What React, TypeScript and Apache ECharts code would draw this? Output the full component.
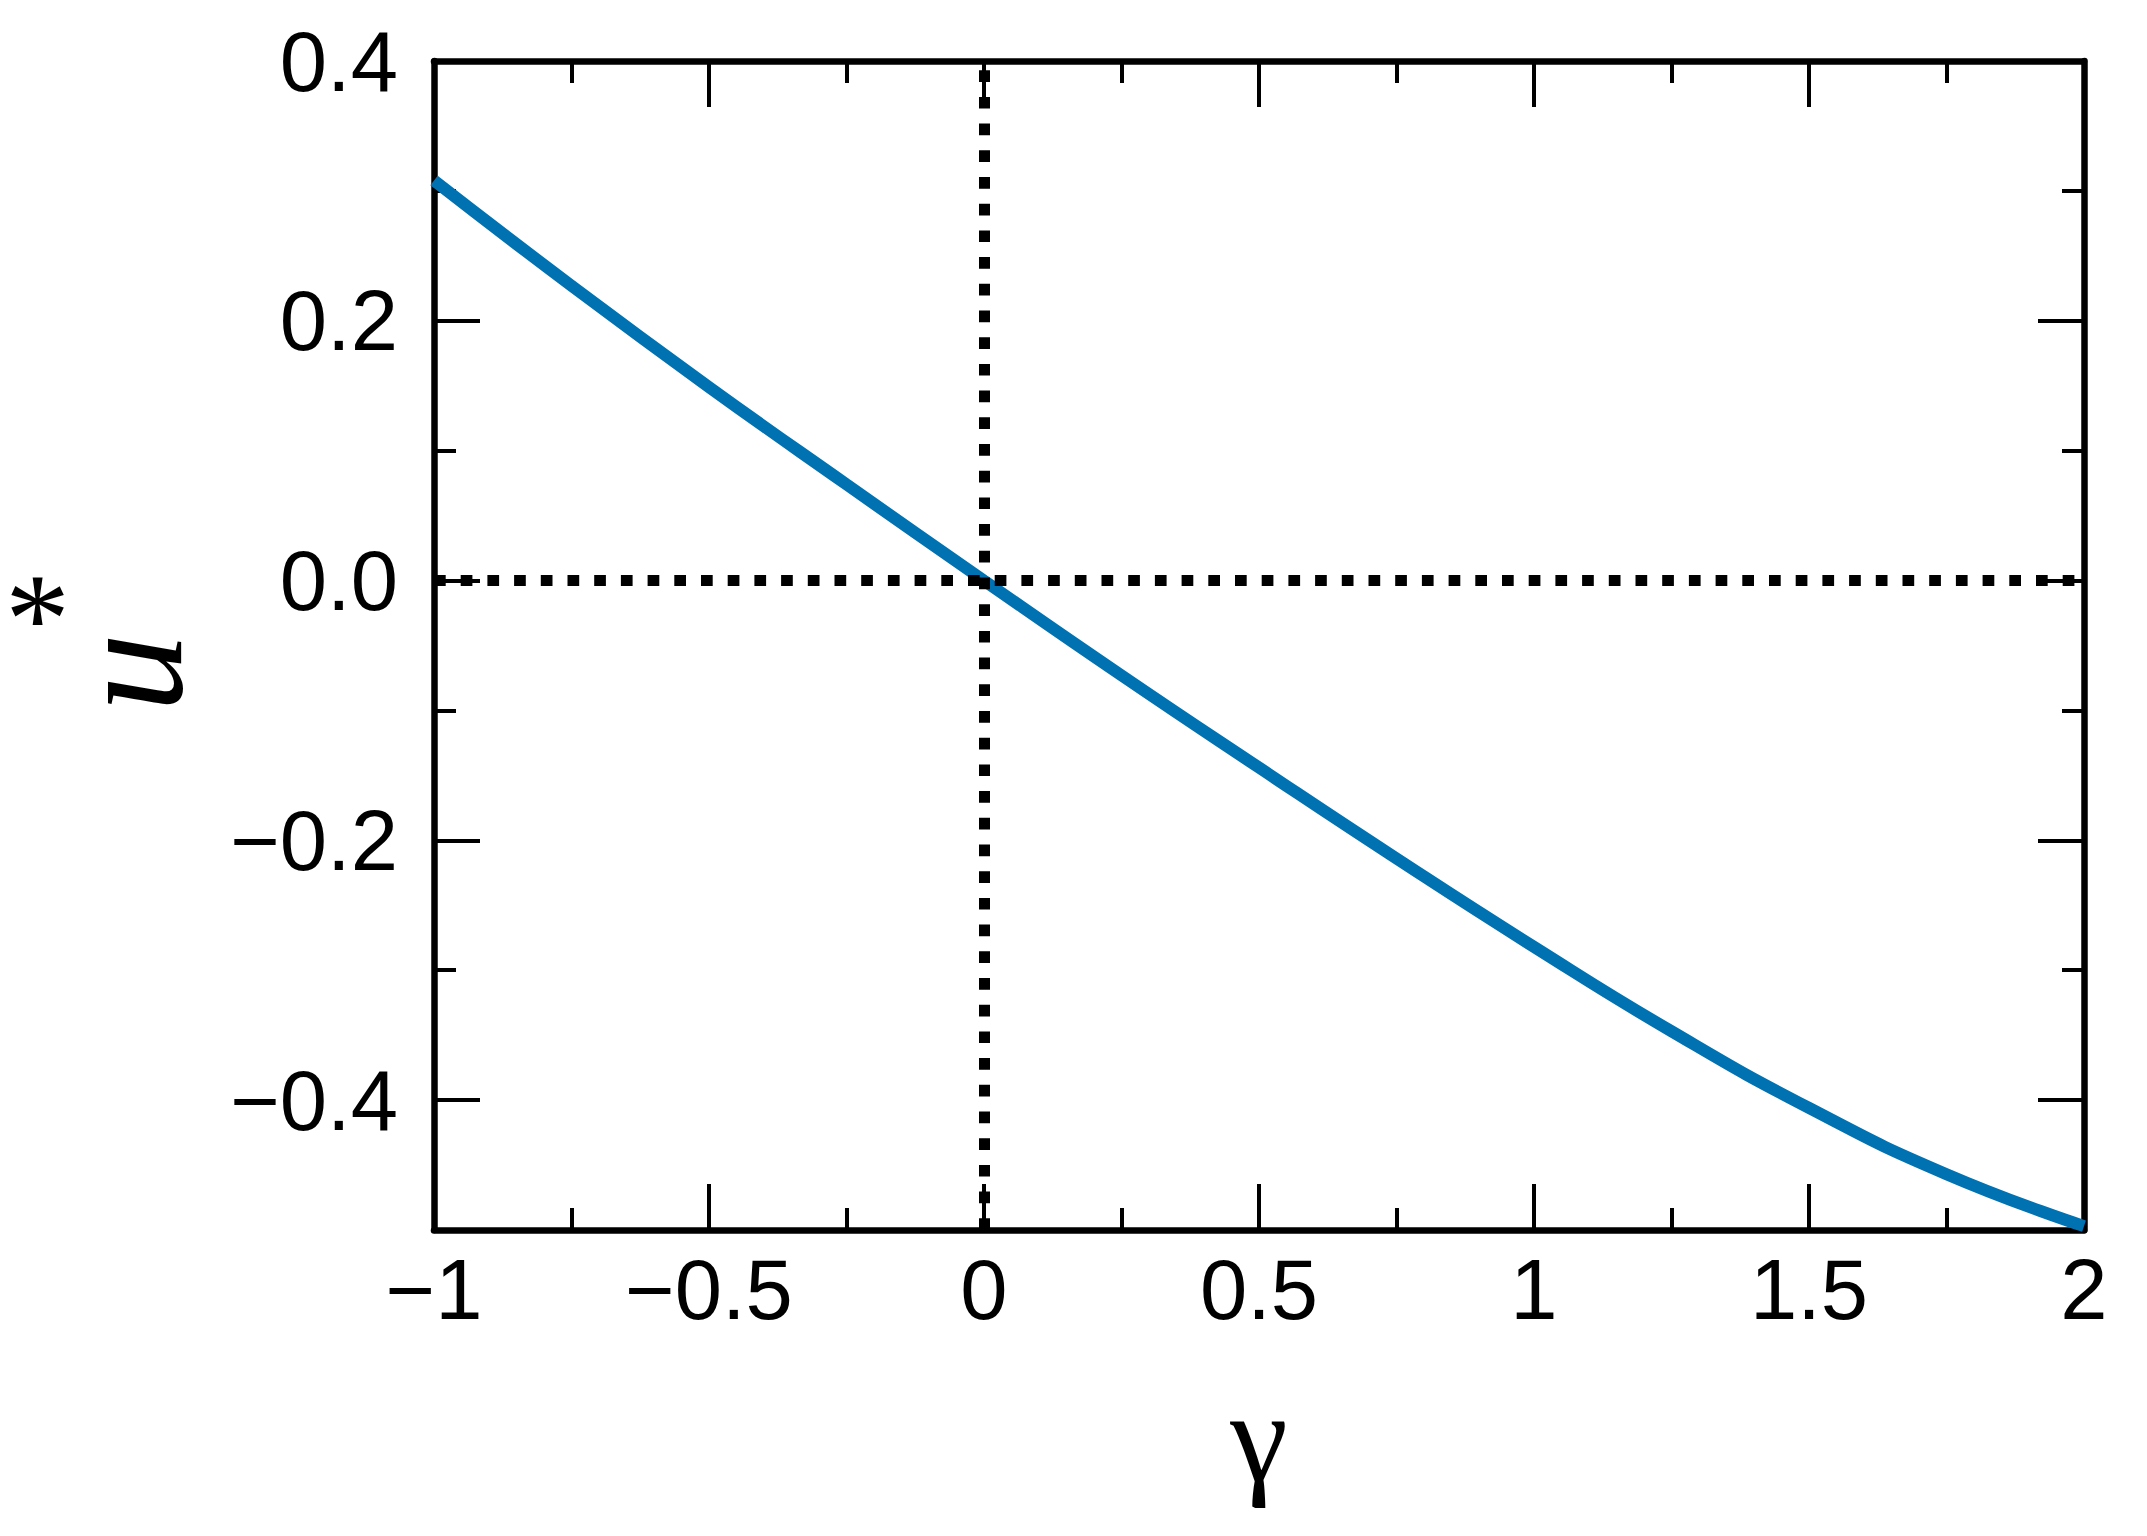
import * as echarts from "echarts";
import { useEffect, useRef } from "react";

const gammaValues = [-1, -0.75, -0.5, -0.25, 0, 0.25, 0.5, 0.75, 1, 1.25, 1.5, 1.75, 2];
const uStarValues = [0.308, 0.227, 0.149, 0.074, 0.0, -0.073, -0.144, -0.214, -0.282, -0.347, -0.406, -0.457, -0.497];

const yMajorTicks = [-0.4, -0.2, 0, 0.2, 0.4];
const referenceGamma = 0;
const referenceU = 0;

const SANS = "'Liberation Sans', Arial, Helvetica, sans-serif";
const SERIF = "'Liberation Serif', 'Times New Roman', serif";
const BLACK = "#000000";

const minus = (s: string) => s.replace("-", "\u2212");

const App = () => {
  const chartRef = useRef<HTMLDivElement>(null);

  useEffect(() => {
    if (!chartRef.current) return;
    const chart = echarts.init(chartRef.current, undefined, { renderer: "svg" });

    const axisLine = { show: true, onZero: false, lineStyle: { color: BLACK, width: 6.5 } };
    const noLine = { show: false, onZero: false };
    const majorTick = { show: true, inside: true, length: 46, lineStyle: { color: BLACK, width: 4 } };
    const minorTick = { show: true, inside: true, length: 22, lineStyle: { color: BLACK, width: 4 } };

    const xBase = { type: "value" as const, min: -1, max: 2, splitLine: { show: false } };
    const yBase = { type: "value" as const, min: -0.5, max: 0.4, splitLine: { show: false } };

    const option: any = {
      animation: false,
      textStyle: { fontFamily: SANS },
      grid: { left: 434, right: 63, top: 61, bottom: 306, containLabel: false, outerBoundsMode: "none" },
      // superscript star of the y-axis name u*
      graphic: [
        {
          type: "text",
          left: 5,
          top: 553,
          style: { text: "*", fontFamily: SERIF, fontSize: 130, fill: BLACK },
        },
      ],
      xAxis: [
        {
          ...xBase,
          position: "bottom",
          interval: 0.5,
          axisLine,
          axisTick: majorTick,
          axisLabel: {
            margin: 17,
            color: BLACK,
            fontSize: 85,
            fontFamily: SANS,
            formatter: (v: number) => minus(String(v)),
          },
          name: "γ",
          nameLocation: "middle",
          nameGap: 141,
          nameTextStyle: { color: BLACK, fontFamily: SERIF, fontSize: 130 },
        },
        { ...xBase, position: "bottom", interval: 0.25, axisLine: noLine, axisTick: minorTick, axisLabel: { show: false } },
        { ...xBase, position: "top", interval: 0.5, axisLine, axisTick: majorTick, axisLabel: { show: false } },
        { ...xBase, position: "top", interval: 0.25, axisLine: noLine, axisTick: minorTick, axisLabel: { show: false } },
      ],
      yAxis: [
        {
          ...yBase,
          position: "left",
          axisLine,
          axisTick: { ...majorTick, customValues: yMajorTicks },
          axisLabel: {
            customValues: yMajorTicks,
            margin: 36,
            color: BLACK,
            fontSize: 85,
            fontFamily: SANS,
            formatter: (v: number) => minus(v.toFixed(1)),
          },
          name: "{u|u}",
          nameLocation: "middle",
          nameRotate: 90,
          nameGap: 228,
          nameTextStyle: {
            color: BLACK,
            rich: {
              u: {
                fontFamily: SERIF,
                fontStyle: "italic",
                fontSize: 158,
                verticalAlign: "bottom",
                padding: [0, 54, 0, 0],
                color: BLACK,
              },
            },
          },
        },
        { ...yBase, position: "left", interval: 0.1, axisLine: noLine, axisTick: minorTick, axisLabel: { show: false } },
        {
          ...yBase,
          position: "right",
          axisLine,
          axisTick: { ...majorTick, customValues: yMajorTicks },
          axisLabel: { show: false },
        },
        { ...yBase, position: "right", interval: 0.1, axisLine: noLine, axisTick: minorTick, axisLabel: { show: false } },
      ],
      series: [
        {
          type: "line",
          xAxisIndex: 0,
          yAxisIndex: 0,
          data: gammaValues.map((g, i) => [g, uStarValues[i]]),
          smooth: 0.5,
          showSymbol: false,
          clip: false,
          lineStyle: { color: "#0072b2", width: 12 },
          z: 2,
        },
        {
          type: "line",
          xAxisIndex: 0,
          yAxisIndex: 0,
          data: [],
          z: 5,
          markLine: {
            silent: true,
            symbol: "none",
            label: { show: false },
            lineStyle: { color: BLACK, width: 11, type: [11.7, 15] },
            data: [{ xAxis: referenceGamma }, { yAxis: referenceU }],
          },
        },
      ],
    };

    chart.setOption(option);
    return () => {
      chart.dispose();
    };
  }, []);

  return (
    <div
      ref={chartRef}
      style={{ position: "fixed", left: 0, top: 0, width: "2147px", height: "1536px", background: "#fff" }}
    />
  );
};

export default App;
